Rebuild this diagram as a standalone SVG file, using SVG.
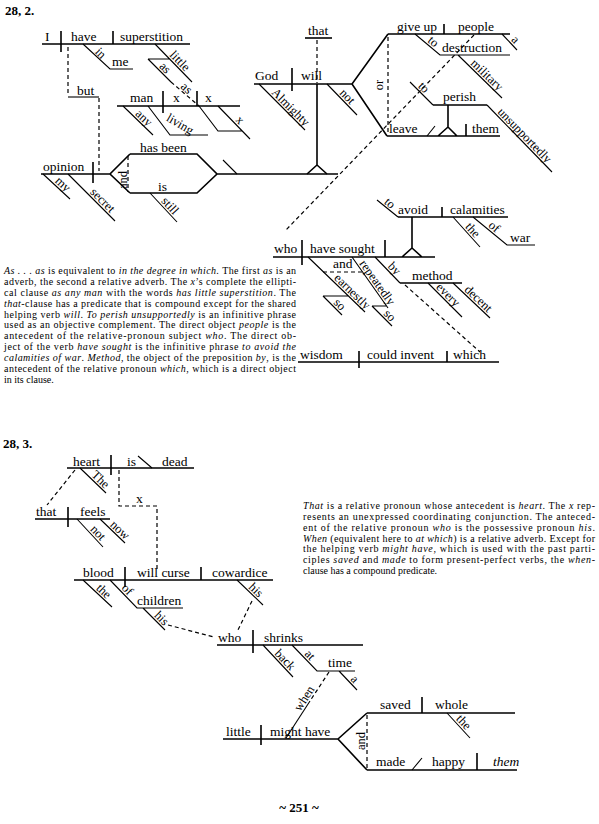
<svg xmlns="http://www.w3.org/2000/svg" width="599" height="824" viewBox="0 0 599 824">
<style>
.b{stroke:#000;stroke-width:1.6;fill:none}
.m{stroke:#000;stroke-width:1.1;fill:none}
.d{stroke:#000;stroke-width:1.2;stroke-dasharray:4 3;fill:none}
.t{font-family:"Liberation Serif",serif;font-size:13.5px;fill:#000}
.s{font-family:"Liberation Serif",serif;font-size:12.5px;fill:#000}
.p{font-family:"Liberation Serif","Times New Roman",serif;font-size:10px;fill:#000}
.i{font-style:italic}
.h{font-family:"Liberation Serif",serif;font-size:13px;font-weight:bold;fill:#000}
.c{text-anchor:middle}
</style>
<rect width="599" height="824" fill="#fff"/>
<text class="h" x="5" y="15">28, 2.</text>

<g id="clause-i-have">
<path class="b" d="M42,44H190M61,31V52M113,31V44"/>
<text class="t" x="45" y="41">I</text>
<text class="t" x="71" y="41">have</text>
<text class="t" x="120" y="41">superstition</text>
<path class="m" d="M83,44L110,69H133"/>
<text class="s" transform="translate(94.4,52.6) rotate(45)">in</text>
<text class="t" x="112" y="66">me</text>
<path class="m" d="M155,44L192,82M148,59H169.5M148,59L171,82"/>
<text class="s" transform="translate(169.1,55.6) rotate(45.8)">little</text>
<text class="s" transform="translate(158.7,66.9) rotate(45)">as</text>
</g>

<g id="clause-man">
<path class="b" d="M117,106H240M163,91V113M197,91V106"/>
<text class="t" x="130" y="102">man</text>
<text class="t" x="173" y="102">x</text>
<text class="t" x="205" y="102">x</text>
<path class="m" d="M123,106L153,135M148,106L170,135H208M218,106L250,139M199,106L218,131H242"/>
<text class="s" transform="translate(134.8,114.6) rotate(44)">any</text>
<text class="s" transform="translate(165.4,120.2) rotate(30)">living</text>
<text class="s" transform="translate(234.9,120.5) rotate(46)">x</text>
</g>

<g id="clause-opinion">
<path class="b" d="M41,174H110M93,162V183M130,154H197L217,174L197,193H130M130,154L110,174L130,193M217,174H338"/>
<text class="t" x="43" y="171">opinion</text>
<path class="m" d="M43,174L70,199M68,174L115,221M150,193L177,222M223,160L237,174"/>
<text class="s" transform="translate(54.4,181.7) rotate(42.8)">my</text>
<text class="s" transform="translate(89.6,192.8) rotate(45)">secret</text>
<text class="t" x="140" y="152">has been</text>
<text class="t" x="158" y="191">is</text>
<text class="s" transform="translate(160.8,201.6) rotate(47)">still</text>
<path class="d" d="M128,156V192"/>
<text class="s c" transform="translate(126.5,180) rotate(-90)">and</text>
<path class="b" d="M317,84V165M307,174L317,165L327,174"/>
</g>

<g id="clause-god-will">
<path class="b" d="M305,38H332"/>
<text class="t" x="308" y="35">that</text>
<path class="b" d="M254,84H352M292,68V91M388,34L352,84L387,136M388,34H510M444,24V34M387,136H500M466,124V136M433,105H487M448,105V127M438,136L448,127L457,136"/>
<text class="t" x="255" y="80">God</text>
<text class="t" x="301" y="80">will</text>
<path class="m" d="M259,84L305,130M327,84L357,115M502,34L517,50M415,34L440,55H510M458,55L502,98M427,136L435,126M410,82L433,105M487,105L552,172"/>
<text class="s" transform="translate(270.9,93.1) rotate(45)">Almighty</text>
<text class="s" transform="translate(339,93.5) rotate(46)">not</text>
<text class="t" x="397" y="31">give up</text>
<text class="t" x="458" y="31">people</text>
<text class="s" transform="translate(510.7,40.3) rotate(47)">a</text>
<text class="s" transform="translate(427,41.5) rotate(40)">to</text>
<text class="t" x="442" y="52">destruction</text>
<text class="s" transform="translate(470.1,64.1) rotate(44)">military</text>
<path class="d" d="M388,37V134"/>
<text class="s c" transform="translate(383,85) rotate(-90)">or</text>
<text class="t" x="389" y="133">leave</text>
<text class="t" x="472" y="133">them</text>
<text class="t" x="443" y="101">perish</text>
<text class="s" transform="translate(417.5,86.7) rotate(45)">to</text>
<text class="s" transform="translate(496.9,112.4) rotate(45.9)">unsupportedly</text>
</g>

<g id="clause-who">
<path class="b" d="M273,257H435M302,240V265M385,240V257M412,217V248M402,257L412,248L422,257M398,217H508M442,207V217M400,283H462"/>
<text class="t" x="274" y="253">who</text>
<text class="t" x="310" y="253">have sought</text>
<text class="t" x="398" y="214">avoid</text>
<text class="t" x="450" y="214">calamities</text>
<path class="m" d="M377,200L398,217M453,217L480,247M473,217L507,245H535M308,257L365,312M323,296H348M323,296L342,315M352,257L388,308M372,306H387M372,306L392,326M375,257L400,283M428,283L462,317M453,283L490,318"/>
<text class="s" transform="translate(383.6,203.1) rotate(40.6)">to</text>
<text class="s" transform="translate(464.7,227.1) rotate(48)">the</text>
<text class="s" transform="translate(487.7,226.6) rotate(39.5)">of</text>
<text class="t" x="510" y="242">war</text>
<text class="s" transform="translate(333.4,278.8) rotate(44)">earnestly</text>
<text class="s" transform="translate(333,303.2) rotate(45)">so</text>
<path class="d" d="M323,272H363"/>
<text class="t" x="333" y="268">and</text>
<text class="s" transform="translate(359,263.5) rotate(54.8)">repeatedly</text>
<text class="s" transform="translate(383,314.2) rotate(45)">so</text>
<text class="s" transform="translate(387.2,266.7) rotate(46)">by</text>
<text class="t" x="412" y="280">method</text>
<text class="s" transform="translate(435.6,287.8) rotate(45)">every</text>
<text class="s" transform="translate(463.8,290.4) rotate(43.4)">decent</text>
</g>

<g id="clause-wisdom">
<path class="b" d="M298,362H499M359,351V368M447,351V362"/>
<text class="t" x="300" y="359">wisdom</text>
<text class="t" x="367" y="359">could invent</text>
<text class="t" x="453" y="359">which</text>
</g>

<g id="connectors-1">
<path class="d" d="M68,47V96M99,98V171M317,40V83M171,82L199,106M474,35L285,231M405,285L480,352"/>
<path class="m" d="M68,97H99"/>
<text class="t" x="77" y="95">but</text>
<text class="s" transform="translate(180.1,87.6) rotate(42.7)">as</text>
</g>

<g id="note-1">
<text class="p" x="4" y="274" textLength="292" lengthAdjust="spacing"><tspan class="i">As . . . as</tspan> is equivalent to <tspan class="i">in the degree in which.</tspan> The first <tspan class="i">as</tspan> is an</text>
<text class="p" x="4" y="284.9" textLength="292" lengthAdjust="spacing">adverb, the second a relative adverb. The <tspan class="i">x</tspan>’s complete the ellipti-</text>
<text class="p" x="4" y="295.7" textLength="292" lengthAdjust="spacing">cal clause <tspan class="i">as any man</tspan> with the words <tspan class="i">has little superstition</tspan>. The</text>
<text class="p" x="4" y="306.6" textLength="292" lengthAdjust="spacing"><tspan class="i">that</tspan>-clause has a predicate that is compound except for the shared</text>
<text class="p" x="4" y="317.5" textLength="292" lengthAdjust="spacing">helping verb <tspan class="i">will</tspan>. <tspan class="i">To perish unsupportedly</tspan> is an infinitive phrase</text>
<text class="p" x="4" y="328.4" textLength="292" lengthAdjust="spacing">used as an objective complement. The direct object <tspan class="i">people</tspan> is the</text>
<text class="p" x="4" y="339.2" textLength="292" lengthAdjust="spacing">antecedent of the relative-pronoun subject <tspan class="i">who</tspan>. The direct ob-</text>
<text class="p" x="4" y="350.1" textLength="292" lengthAdjust="spacing">ject of the verb <tspan class="i">have sought</tspan> is the infinitive phrase <tspan class="i">to avoid the</tspan></text>
<text class="p" x="4" y="361" textLength="292" lengthAdjust="spacing"><tspan class="i">calamities of war</tspan>. <tspan class="i">Method</tspan>, the object of the preposition <tspan class="i">by</tspan>, is the</text>
<text class="p" x="4" y="371.8" textLength="292" lengthAdjust="spacing">antecedent of the relative pronoun <tspan class="i">which</tspan>, which is a direct object</text>
<text class="p" x="4" y="382.7">in its clause.</text>
</g>

<text class="h" x="3" y="448">28, 3.</text>

<g id="clause-heart">
<path class="b" d="M67,468H194M111,455V475"/>
<path class="m" d="M138,456L152,468M80,468L106,493"/>
<text class="t" x="73" y="466">heart</text>
<text class="t" x="127" y="466">is</text>
<text class="t" x="162" y="466">dead</text>
<text class="s" transform="translate(90.8,475.6) rotate(44)">The</text>
</g>

<g id="clause-that-feels">
<path class="b" d="M35,519H110M68,507V527"/>
<path class="m" d="M77,519L103,547M100,519L125,543"/>
<text class="t" x="36" y="516">that</text>
<text class="t" x="80" y="516">feels</text>
<text class="s" transform="translate(89.8,529.7) rotate(47)">not</text>
<text class="s" transform="translate(109.6,525.4) rotate(44)">now</text>
</g>

<g id="clause-blood">
<path class="b" d="M74,580H273M125,567V587M201,567V580"/>
<path class="m" d="M83,580L112,607M110,580L137,608H183M143,608L165,630M237,580L263,605"/>
<text class="t" x="83" y="577">blood</text>
<text class="t" x="137" y="577">will curse</text>
<text class="t" x="212" y="577">cowardice</text>
<text class="s" transform="translate(95.5,588.9) rotate(43)">the</text>
<text class="s" transform="translate(121,588.5) rotate(46)">of</text>
<text class="t" x="137" y="605">children</text>
<text class="s" transform="translate(153.7,615.9) rotate(45)">his</text>
<text class="s" transform="translate(248,587.8) rotate(44)">his</text>
</g>

<g id="clause-shrinks">
<path class="b" d="M217,645H363M253,630V653"/>
<path class="m" d="M263,645L293,677M292,645L317,671H355M339,671L357,690"/>
<text class="t" x="218" y="642">who</text>
<text class="t" x="264" y="642">shrinks</text>
<text class="s" transform="translate(274.1,653.9) rotate(47)">back</text>
<text class="s" transform="translate(303.9,654.6) rotate(46)">at</text>
<text class="t" x="328" y="667">time</text>
<text class="s" transform="translate(350.1,679.8) rotate(46.5)">a</text>
</g>

<g id="clause-little">
<path class="b" d="M223,739H338M261,725V745M367,713L338,739L367,770M367,713H515M422,697V713M367,770H517M477,753V770"/>
<path class="m" d="M447,713L470,738M412,770L422,758"/>
<text class="t" x="226" y="736">little</text>
<text class="t" x="270" y="736">might have</text>
<text class="t" x="380" y="709">saved</text>
<text class="t" x="435" y="709">whole</text>
<text class="s" transform="translate(455.6,719.3) rotate(47)">the</text>
<text class="t" x="376" y="766">made</text>
<text class="t" x="432" y="766">happy</text>
<text class="t i" x="493" y="766">them</text>
<path class="d" d="M367,715V768"/>
<text class="s c" transform="translate(364.5,741) rotate(-90)">and</text>
</g>

<g id="connectors-2">
<path class="d" d="M75,470L47,505M119,470V506H157V572M168,625L214,637M252,601L237,632M329,672L310,701"/>
<path class="m" d="M310,701L286,738"/>
<text class="t" x="136" y="503">x</text>
<text class="s" transform="translate(300.3,711.9) rotate(-57.3)">when</text>
</g>

<g id="note-2">
<text class="p" x="303" y="509" textLength="292" lengthAdjust="spacing"><tspan class="i">That</tspan> is a relative pronoun whose antecedent is <tspan class="i">heart</tspan>. The <tspan class="i">x</tspan> rep-</text>
<text class="p" x="303" y="519.9" textLength="292" lengthAdjust="spacing">resents an unexpressed coordinating conjunction. The anteced-</text>
<text class="p" x="303" y="530.7" textLength="292" lengthAdjust="spacing">ent of the relative pronoun <tspan class="i">who</tspan> is the possessive pronoun <tspan class="i">his</tspan>.</text>
<text class="p" x="303" y="541.6" textLength="292" lengthAdjust="spacing"><tspan class="i">When</tspan> (equivalent here to <tspan class="i">at which</tspan>) is a relative adverb. Except for</text>
<text class="p" x="303" y="552.4" textLength="292" lengthAdjust="spacing">the helping verb <tspan class="i">might have</tspan>, which is used with the past parti-</text>
<text class="p" x="303" y="563.3" textLength="292" lengthAdjust="spacing">ciples <tspan class="i">saved</tspan> and <tspan class="i">made</tspan> to form present-perfect verbs, the <tspan class="i">when-</tspan></text>
<text class="p" x="303" y="574.1">clause has a compound predicate.</text>
</g>

<text class="h c" x="299" y="812">~ 251 ~</text>
</svg>
